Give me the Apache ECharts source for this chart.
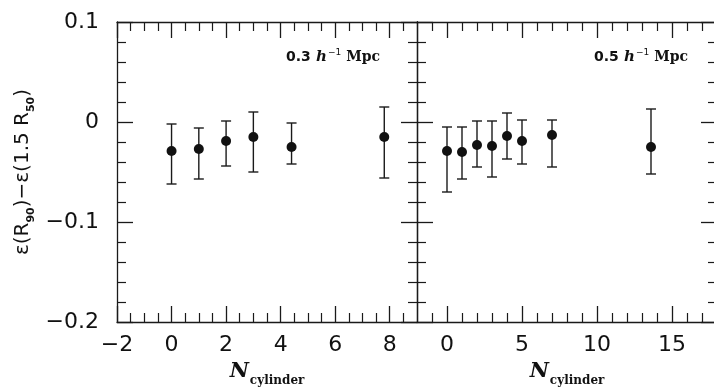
<!DOCTYPE html>
<html>
<head>
<meta charset="utf-8">
<script src="https://cdn.jsdelivr.net/npm/echarts@6/dist/echarts.min.js"></script>
<style>
html,body{margin:0;padding:0;background:#fff;}
#chart{width:714px;height:392px;}
</style>
</head>
<body>
<div id="chart"></div>
<script>
// ---- data ----
const leftX    = [0, 1, 2, 3, 4.4, 7.8];
const leftY    = [-0.029, -0.027, -0.019, -0.015, -0.025, -0.015];
const leftLow  = [-0.062, -0.057, -0.044, -0.050, -0.042, -0.056];
const leftHigh = [-0.002, -0.006, 0.001, 0.010, -0.001, 0.015];

const rightX    = [0, 1, 2, 3, 4, 5, 7, 13.6];
const rightY    = [-0.029, -0.030, -0.023, -0.024, -0.014, -0.019, -0.013, -0.025];
const rightLow  = [-0.070, -0.057, -0.045, -0.055, -0.037, -0.042, -0.045, -0.052];
const rightHigh = [-0.005, -0.005, 0.001, 0.001, 0.009, 0.002, 0.002, 0.013];

// ---- ticks ----
const yMajor = [-0.2, -0.1, 0, 0.1];
const yMinor = [-0.18, -0.16, -0.14, -0.12, -0.08, -0.06, -0.04, -0.02, 0.02, 0.04, 0.06, 0.08];
const leftXMajor = [-2, 0, 2, 4, 6, 8];
const leftXMinor = [-1.5, -1, -0.5, 0.5, 1, 1.5, 2.5, 3, 3.5, 4.5, 5, 5.5, 6.5, 7, 7.5, 8.5];
const rightXMajor = [0, 5, 10, 15];
const rightXMinor = [-1, 1, 2, 3, 4, 6, 7, 8, 9, 11, 12, 13, 14, 16, 17];
const leftXRange = [-2, 9];
const rightXRange = [-2, 18];
const yRange = [-0.2, 0.1];

const panelLabels = ['0.3', '0.5'];

const INK = '#1a1a1a';
const fmt = v => (v < 0 ? '\u2212' : '') + String(Math.abs(v));

function axisPair(grid, pos, range, major, minor, showLabels, extra, hideLine) {
  const isY = (pos === 'left' || pos === 'right');
  const base = {
    type: 'value', gridIndex: grid, position: pos, min: range[0], max: range[1],
    splitLine: {show: false}, minorTick: {show: false}, minorSplitLine: {show: false}
  };
  const maj = Object.assign({}, base, {
    axisLine: {show: !hideLine, onZero: false, lineStyle: {color: INK, width: 1.3}},
    axisTick: {show: true, inside: true, length: 16, customValues: major, lineStyle: {color: INK, width: 1.3}},
    axisLabel: {show: showLabels, customValues: major, formatter: fmt,
      margin: isY ? 18 : 12, fontSize: 22, color: '#111', fontFamily: 'DejaVu Sans'}
  }, extra || {});
  const min = Object.assign({}, base, {
    axisLine: {show: false, onZero: false},
    axisTick: {show: true, inside: true, length: 9, customValues: minor, lineStyle: {color: INK, width: 1.2}},
    axisLabel: {show: false}
  });
  return [maj, min];
}

const xName = {
  name: '{n|N}{s|cylinder}',
  nameLocation: 'middle',
  nameGap: 38,
  nameTextStyle: {
    rich: {
      n: {fontFamily: 'DejaVu Serif', fontStyle: 'italic', fontWeight: 'bold', fontSize: 21, color: '#111', lineHeight: 24, verticalAlign: 'top'},
      s: {fontFamily: 'DejaVu Serif', fontWeight: 'bold', fontSize: 12, color: '#111', lineHeight: 12, padding: [14, 0, 0, 1], verticalAlign: 'top'}
    }
  }
};

const yName = {
  name: '{a|\u03b5(R}{b|90}{a|)\u2212\u03b5(1.5 R}{b|50}{a|)}',
  nameLocation: 'middle',
  nameGap: 80,
  nameRotate: 90,
  nameTextStyle: {
    rich: {
      a: {fontFamily: 'DejaVu Sans', fontSize: 20, color: '#111', lineHeight: 24, verticalAlign: 'top'},
      b: {fontFamily: 'DejaVu Sans', fontWeight: 'bold', fontSize: 11, color: '#111', lineHeight: 11, padding: [13, 0, 0, 0], verticalAlign: 'top'}
    }
  }
};

const xAxes = [].concat(
  axisPair(0, 'bottom', leftXRange, leftXMajor, leftXMinor, true, xName),
  axisPair(0, 'top', leftXRange, leftXMajor, leftXMinor, false),
  axisPair(1, 'bottom', rightXRange, rightXMajor, rightXMinor, true, xName),
  axisPair(1, 'top', rightXRange, rightXMajor, rightXMinor, false)
);
const yAxes = [].concat(
  axisPair(0, 'left', yRange, yMajor, yMinor, true, yName),
  axisPair(0, 'right', yRange, yMajor, yMinor, false),
  axisPair(1, 'left', yRange, yMajor, yMinor, false),
  axisPair(1, 'right', yRange, yMajor, yMinor, false, null, true)
);

function errRender(params, api) {
  const x = api.value(0), lo = api.value(1), hi = api.value(2);
  const t = api.coord([x, hi]), b = api.coord([x, lo]);
  const cw = 5;
  const style = {stroke: INK, lineWidth: 1.4};
  return {type: 'group', children: [
    {type: 'line', shape: {x1: t[0], y1: t[1], x2: b[0], y2: b[1]}, style: style},
    {type: 'line', shape: {x1: t[0] - cw, y1: t[1], x2: t[0] + cw, y2: t[1]}, style: style},
    {type: 'line', shape: {x1: b[0] - cw, y1: b[1], x2: b[0] + cw, y2: b[1]}, style: style}
  ]};
}

function panelSeries(xs, ys, lows, highs, xi, yi) {
  return [
    {type: 'custom', xAxisIndex: xi, yAxisIndex: yi, renderItem: errRender,
     encode: {x: 0, y: [1, 2]}, z: 2, silent: true,
     data: xs.map((x, i) => [x, lows[i], highs[i]])},
    {type: 'scatter', xAxisIndex: xi, yAxisIndex: yi, symbol: 'circle', symbolSize: 10,
     itemStyle: {color: '#111', opacity: 1}, z: 3, silent: true,
     data: xs.map((x, i) => [x, ys[i]])}
  ];
}

const annRich = {
  d: {fontFamily: 'DejaVu Sans', fontWeight: 'bold', fontSize: 14, fill: '#111'},
  h: {fontFamily: 'DejaVu Serif', fontStyle: 'italic', fontWeight: 'bold', fontSize: 15, fill: '#111'},
  p: {fontFamily: 'DejaVu Sans', fontSize: 9, fill: '#111', padding: [0, 0, 8, 1]},
  m: {fontFamily: 'DejaVu Serif', fontWeight: 'bold', fontSize: 14, fill: '#111'}
};

const option = {
  backgroundColor: '#fff',
  animation: false,
  grid: [
    {left: 117, top: 22, width: 300, height: 300, outerBoundsMode: 'none', containLabel: false},
    {left: 417, top: 22, right: -3, height: 300, outerBoundsMode: 'none', containLabel: false}
  ],
  xAxis: xAxes,
  yAxis: yAxes,
  series: [].concat(
    panelSeries(leftX, leftY, leftLow, leftHigh, 0, 0),
    panelSeries(rightX, rightY, rightLow, rightHigh, 4, 4)
  ),
  graphic: [
    {type: 'text', x: 333, y: 57, style: {text: '{d|' + panelLabels[0] + '}{h| h}{p|\u22121}{m| Mpc}', rich: annRich, align: 'center', verticalAlign: 'middle'}},
    {type: 'text', x: 641, y: 57, style: {text: '{d|' + panelLabels[1] + '}{h| h}{p|\u22121}{m| Mpc}', rich: annRich, align: 'center', verticalAlign: 'middle'}}
  ]
};

const chart = echarts.init(document.getElementById('chart'), null, {renderer: 'canvas'});
chart.setOption(option);
</script>
</body>
</html>
